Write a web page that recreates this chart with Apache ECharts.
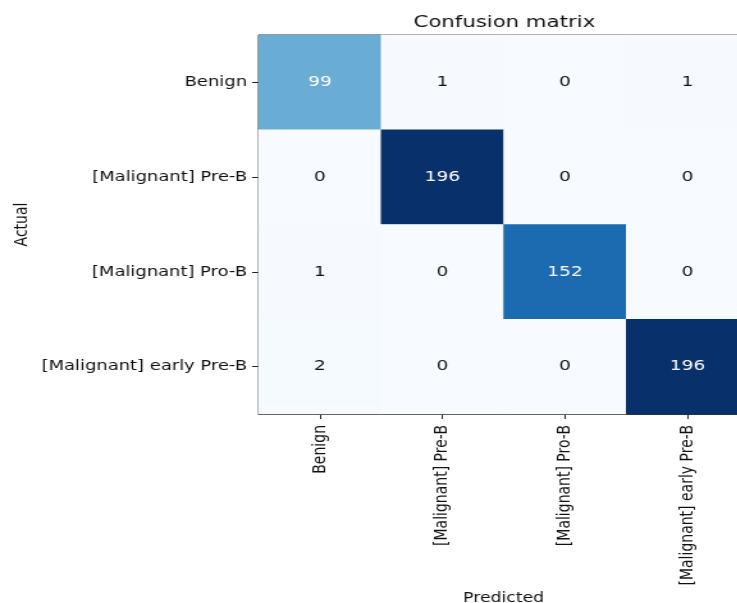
<!DOCTYPE html>
<html>
<head>
<meta charset="utf-8">
<script src="https://cdn.jsdelivr.net/npm/echarts@6/dist/echarts.min.js"></script>
<style>
  html, body { margin: 0; padding: 0; background: #ffffff; overflow: hidden; }
  /* the figure is laid out narrow and stretched sideways to its final width */
  #chart { width: 576px; height: 603px; transform: scaleX(1.28); transform-origin: 0 0; }
</style>
</head>
<body>
<div id="chart"></div>
<script>
// Class names shared by both axes
const classes = ['Benign', '[Malignant] Pre-B', '[Malignant] Pro-B', '[Malignant] early Pre-B'];

// Confusion counts, one row per actual class, one column per predicted class
const rowBenign = [99, 1, 0, 1];
const rowPreB = [0, 196, 0, 0];
const rowProB = [1, 0, 152, 0];
const rowEarlyPreB = [2, 0, 0, 196];
const matrix = [rowBenign, rowPreB, rowProB, rowEarlyPreB];

// Blues colour ramp
const blues = ['#f7fbff', '#deebf7', '#c6dbef', '#9ecae1', '#6baed6', '#4292c6', '#2171b5', '#08519c', '#08306b'];

const maxCount = Math.max(...matrix.flat());
const threshold = maxCount / 2;

const cells = [];
matrix.forEach((row, r) => {
  row.forEach((v, c) => {
    cells.push({
      value: [c, r, v],
      label: { color: v > threshold ? '#ffffff' : '#111111' }
    });
  });
});

const font = 'DejaVu Sans';
const chart = echarts.init(document.getElementById('chart'), null, { renderer: 'canvas' });

chart.setOption({
  backgroundColor: '#ffffff',
  animation: false,
  title: {
    text: 'Confusion matrix',
    left: 389,
    textAlign: 'center',
    top: 9,
    textStyle: { fontFamily: font, fontSize: 16.6, fontWeight: 'normal', color: '#111' }
  },
  grid: {
    left: 202,
    top: 35,
    width: 383,
    height: 379,
    outerBoundsMode: 'none',
    containLabel: false,
    show: true,
    borderColor: '#333',
    borderWidth: 1,
    backgroundColor: 'transparent'
  },
  xAxis: {
    type: 'category',
    data: classes,
    position: 'bottom',
    name: 'Predicted',
    nameLocation: 'middle',
    nameGap: 177,
    nameMoveOverlap: false,
    nameTextStyle: { fontFamily: font, fontSize: 13.5, color: '#111' },
    axisLine: { show: true, lineStyle: { color: '#333', width: 1 } },
    axisTick: { show: true, alignWithLabel: true, length: 5, lineStyle: { color: '#222' } },
    axisLabel: { rotate: 90, margin: 11, fontFamily: font, fontSize: 14, color: '#111' },
    splitLine: { show: false },
    splitArea: { show: false }
  },
  yAxis: {
    type: 'category',
    data: classes,
    inverse: true,
    name: 'Actual',
    nameLocation: 'middle',
    nameGap: 178,
    nameMoveOverlap: false,
    nameRotate: 90,
    nameTextStyle: { fontFamily: font, fontSize: 14, color: '#111' },
    axisLine: { show: true, lineStyle: { color: '#333', width: 1 } },
    axisTick: { show: true, alignWithLabel: true, length: 5, lineStyle: { color: '#222' } },
    axisLabel: { margin: 9, fontFamily: font, fontSize: 14, color: '#111' },
    splitLine: { show: false },
    splitArea: { show: false }
  },
  visualMap: {
    show: false,
    min: 0,
    max: maxCount,
    dimension: 2,
    inRange: { color: blues }
  },
  series: [{
    type: 'heatmap',
    data: cells,
    label: { show: true, fontFamily: font, fontSize: 14.5 },
    itemStyle: { borderWidth: 0 },
    emphasis: { disabled: true }
  }]
});
</script>
</body>
</html>
